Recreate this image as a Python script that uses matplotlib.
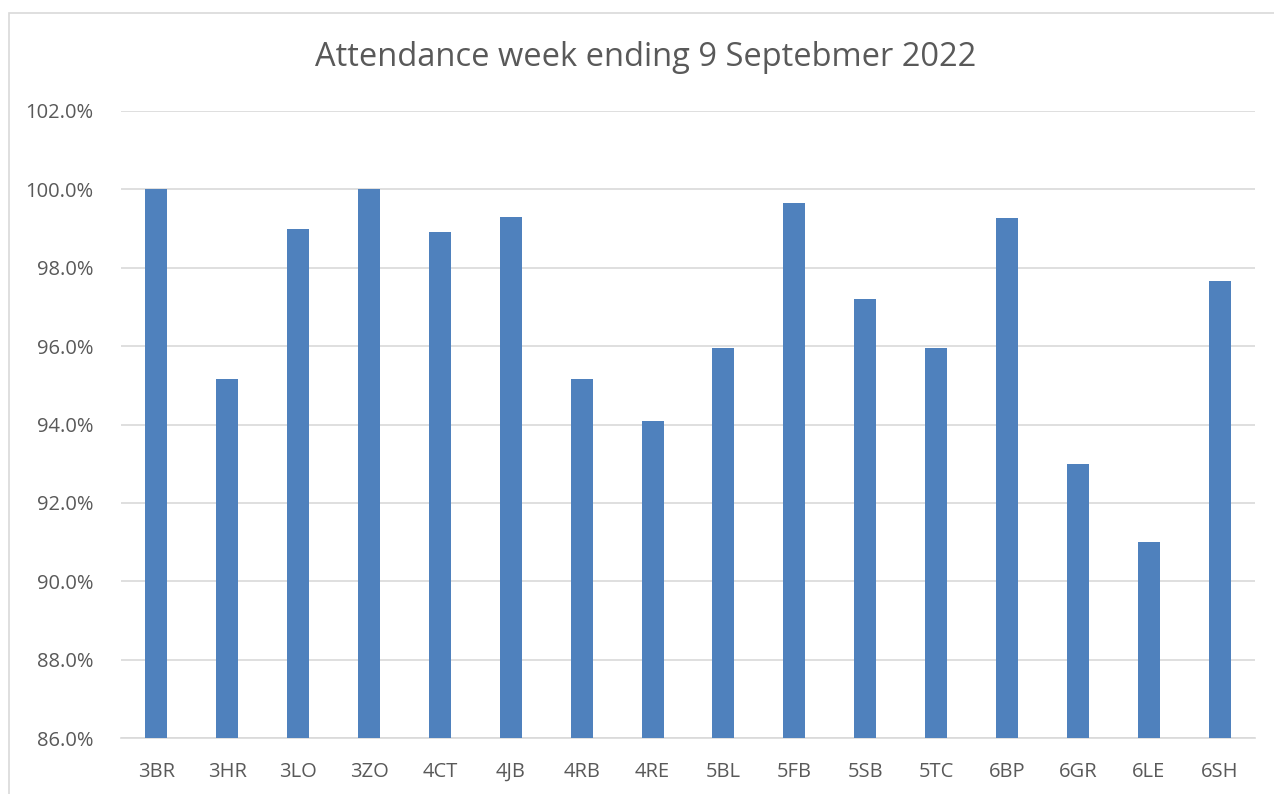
import matplotlib
matplotlib.use("Agg")
import matplotlib.pyplot as plt
from matplotlib.patches import Rectangle
from matplotlib.ticker import FuncFormatter, MultipleLocator

categories = ["3BR", "3HR", "3LO", "3ZO", "4CT", "4JB", "4RB", "4RE",
              "5BL", "5FB", "5SB", "5TC", "6BP", "6GR", "6LE", "6SH"]
attendance = [100.0, 95.15, 99.0, 100.0, 98.9, 99.3, 95.15, 94.1,
              95.95, 99.65, 97.2, 95.95, 99.27, 93.0, 91.0, 97.65]
title = "Attendance week ending 9 Septebmer 2022"

plt.rcParams['font.family'] = ['Open Sans', 'DejaVu Sans']
text_color = "#595959"

W, H = 1274, 794
fig = plt.figure(figsize=(W / 100, H / 100), dpi=100)
fig.patch.set_facecolor("white")

# chart border
fig.patches.append(Rectangle((9 / W, -0.05), 1.0, 1.05 - 13 / H,
                             transform=fig.transFigure, fill=False,
                             edgecolor="#D9D9D9", linewidth=1.2))

ax = fig.add_axes([121 / W, 1 - 738 / H, (1255 - 121) / W, (738 - 111) / H])
x = range(len(categories))
ax.bar(x, attendance, width=0.31, color="#4F81BD", zorder=3)
ax.set_xlim(-0.5, len(categories) - 0.5)
ax.set_ylim(86, 102)
ax.yaxis.set_major_locator(MultipleLocator(2))
ax.yaxis.set_major_formatter(FuncFormatter(lambda v, p: f"{v:.1f}%"))
ax.set_xticks(list(x))
ax.set_xticklabels(categories)
ax.grid(axis="y", color="#D9D9D9", linewidth=1.2, zorder=0)
for s in ["top", "right", "left"]:
    ax.spines[s].set_visible(False)
ax.spines["bottom"].set_color("#D9D9D9")
ax.spines["bottom"].set_linewidth(1.2)
ax.tick_params(axis="both", length=0, labelsize=14.5, colors=text_color)
ax.tick_params(axis="y", pad=20)
ax.tick_params(axis="x", pad=17)

fig.text(646 / W, 1 - 57 / H, title, ha="center", va="center",
         fontsize=23.5, color=text_color)

fig.savefig("out.png", dpi=100)
